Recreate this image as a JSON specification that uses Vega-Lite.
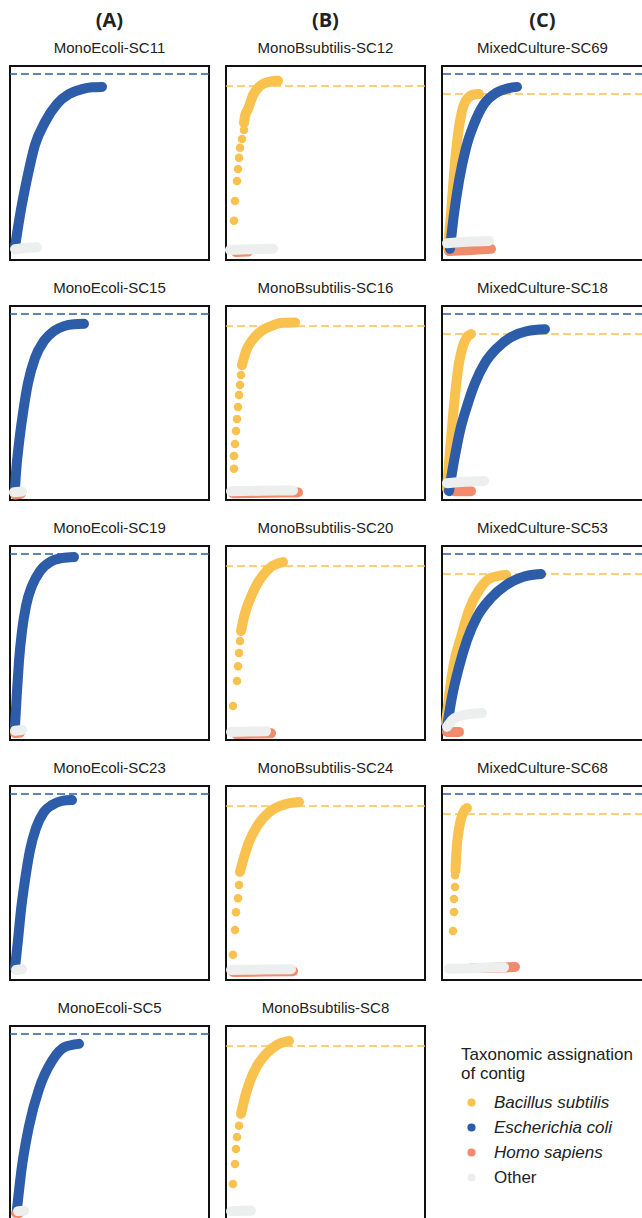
{
"$schema":"https://vega.github.io/schema/vega-lite/v6.json",
"padding":{"left":8,"top":11,"right":0,"bottom":0},
"background":"white",
"datasets":{"d":[
{"c":"A","p":"MonoEcoli-SC11","t":"Escherichia coli","k":"r","x":0,"y":4.64},
{"c":"A","p":"MonoEcoli-SC11","t":"Escherichia coli","k":"l","x":5,"y":0.08},
{"c":"A","p":"MonoEcoli-SC11","t":"Escherichia coli","k":"l","x":10,"y":0.92},
{"c":"A","p":"MonoEcoli-SC11","t":"Escherichia coli","k":"l","x":17,"y":1.87},
{"c":"A","p":"MonoEcoli-SC11","t":"Escherichia coli","k":"l","x":25,"y":2.77},
{"c":"A","p":"MonoEcoli-SC11","t":"Escherichia coli","k":"l","x":35,"y":3.37},
{"c":"A","p":"MonoEcoli-SC11","t":"Escherichia coli","k":"l","x":47,"y":3.85},
{"c":"A","p":"MonoEcoli-SC11","t":"Escherichia coli","k":"l","x":59,"y":4.11},
{"c":"A","p":"MonoEcoli-SC11","t":"Escherichia coli","k":"l","x":72,"y":4.24},
{"c":"A","p":"MonoEcoli-SC11","t":"Escherichia coli","k":"l","x":82,"y":4.29},
{"c":"A","p":"MonoEcoli-SC11","t":"Escherichia coli","k":"l","x":92,"y":4.30},
{"c":"A","p":"MonoEcoli-SC11","t":"Other","k":"l","x":5,"y":0.02},
{"c":"A","p":"MonoEcoli-SC11","t":"Other","k":"l","x":15,"y":0.05},
{"c":"A","p":"MonoEcoli-SC11","t":"Other","k":"l","x":27,"y":0.07},

{"c":"A","p":"MonoEcoli-SC15","t":"Escherichia coli","k":"r","x":0,"y":4.64},
{"c":"A","p":"MonoEcoli-SC15","t":"Homo sapiens","k":"l","x":5,"y":-0.12},
{"c":"A","p":"MonoEcoli-SC15","t":"Homo sapiens","k":"l","x":11,"y":-0.1},
{"c":"A","p":"MonoEcoli-SC15","t":"Escherichia coli","k":"l","x":5,"y":0.05},
{"c":"A","p":"MonoEcoli-SC15","t":"Escherichia coli","k":"l","x":6,"y":0.45},
{"c":"A","p":"MonoEcoli-SC15","t":"Escherichia coli","k":"l","x":9,"y":1.24},
{"c":"A","p":"MonoEcoli-SC15","t":"Escherichia coli","k":"l","x":13,"y":2.03},
{"c":"A","p":"MonoEcoli-SC15","t":"Escherichia coli","k":"l","x":18,"y":2.82},
{"c":"A","p":"MonoEcoli-SC15","t":"Escherichia coli","k":"l","x":25,"y":3.48},
{"c":"A","p":"MonoEcoli-SC15","t":"Escherichia coli","k":"l","x":34,"y":3.93},
{"c":"A","p":"MonoEcoli-SC15","t":"Escherichia coli","k":"l","x":44,"y":4.19},
{"c":"A","p":"MonoEcoli-SC15","t":"Escherichia coli","k":"l","x":54,"y":4.32},
{"c":"A","p":"MonoEcoli-SC15","t":"Escherichia coli","k":"l","x":64,"y":4.37},
{"c":"A","p":"MonoEcoli-SC15","t":"Escherichia coli","k":"l","x":74,"y":4.38},
{"c":"A","p":"MonoEcoli-SC15","t":"Other","k":"l","x":4,"y":-0.06},
{"c":"A","p":"MonoEcoli-SC15","t":"Other","k":"l","x":12,"y":-0.04},

{"c":"A","p":"MonoEcoli-SC19","t":"Escherichia coli","k":"r","x":0,"y":4.64},
{"c":"A","p":"MonoEcoli-SC19","t":"Homo sapiens","k":"l","x":5,"y":-0.08},
{"c":"A","p":"MonoEcoli-SC19","t":"Homo sapiens","k":"l","x":10,"y":-0.07},
{"c":"A","p":"MonoEcoli-SC19","t":"Escherichia coli","k":"l","x":5,"y":0.11},
{"c":"A","p":"MonoEcoli-SC19","t":"Escherichia coli","k":"l","x":7,"y":1.03},
{"c":"A","p":"MonoEcoli-SC19","t":"Escherichia coli","k":"l","x":9,"y":1.82},
{"c":"A","p":"MonoEcoli-SC19","t":"Escherichia coli","k":"l","x":12,"y":2.61},
{"c":"A","p":"MonoEcoli-SC19","t":"Escherichia coli","k":"l","x":16,"y":3.27},
{"c":"A","p":"MonoEcoli-SC19","t":"Escherichia coli","k":"l","x":22,"y":3.80},
{"c":"A","p":"MonoEcoli-SC19","t":"Escherichia coli","k":"l","x":30,"y":4.19},
{"c":"A","p":"MonoEcoli-SC19","t":"Escherichia coli","k":"l","x":40,"y":4.43},
{"c":"A","p":"MonoEcoli-SC19","t":"Escherichia coli","k":"l","x":52,"y":4.53},
{"c":"A","p":"MonoEcoli-SC19","t":"Escherichia coli","k":"l","x":64,"y":4.56},
{"c":"A","p":"MonoEcoli-SC19","t":"Other","k":"l","x":5,"y":-0.02},
{"c":"A","p":"MonoEcoli-SC19","t":"Other","k":"l","x":12,"y":0.0},

{"c":"A","p":"MonoEcoli-SC23","t":"Escherichia coli","k":"r","x":0,"y":4.64},
{"c":"A","p":"MonoEcoli-SC23","t":"Escherichia coli","k":"l","x":5,"y":0.05},
{"c":"A","p":"MonoEcoli-SC23","t":"Escherichia coli","k":"l","x":8,"y":0.79},
{"c":"A","p":"MonoEcoli-SC23","t":"Escherichia coli","k":"l","x":11,"y":1.58},
{"c":"A","p":"MonoEcoli-SC23","t":"Escherichia coli","k":"l","x":15,"y":2.37},
{"c":"A","p":"MonoEcoli-SC23","t":"Escherichia coli","k":"l","x":20,"y":3.16},
{"c":"A","p":"MonoEcoli-SC23","t":"Escherichia coli","k":"l","x":26,"y":3.74},
{"c":"A","p":"MonoEcoli-SC23","t":"Escherichia coli","k":"l","x":34,"y":4.17},
{"c":"A","p":"MonoEcoli-SC23","t":"Escherichia coli","k":"l","x":42,"y":4.35},
{"c":"A","p":"MonoEcoli-SC23","t":"Escherichia coli","k":"l","x":52,"y":4.46},
{"c":"A","p":"MonoEcoli-SC23","t":"Escherichia coli","k":"l","x":62,"y":4.48},
{"c":"A","p":"MonoEcoli-SC23","t":"Other","k":"l","x":6,"y":0.0},
{"c":"A","p":"MonoEcoli-SC23","t":"Other","k":"l","x":12,"y":0.02},

{"c":"A","p":"MonoEcoli-SC5","t":"Escherichia coli","k":"r","x":0,"y":4.64},
{"c":"A","p":"MonoEcoli-SC5","t":"Homo sapiens","k":"l","x":6,"y":-0.08},
{"c":"A","p":"MonoEcoli-SC5","t":"Homo sapiens","k":"l","x":9,"y":-0.08},
{"c":"A","p":"MonoEcoli-SC5","t":"Escherichia coli","k":"l","x":7,"y":0.03},
{"c":"A","p":"MonoEcoli-SC5","t":"Escherichia coli","k":"l","x":12,"y":1.16},
{"c":"A","p":"MonoEcoli-SC5","t":"Escherichia coli","k":"l","x":19,"y":2.21},
{"c":"A","p":"MonoEcoli-SC5","t":"Escherichia coli","k":"l","x":29,"y":3.19},
{"c":"A","p":"MonoEcoli-SC5","t":"Escherichia coli","k":"l","x":42,"y":3.93},
{"c":"A","p":"MonoEcoli-SC5","t":"Escherichia coli","k":"l","x":55,"y":4.30},
{"c":"A","p":"MonoEcoli-SC5","t":"Escherichia coli","k":"l","x":69,"y":4.38},
{"c":"A","p":"MonoEcoli-SC5","t":"Other","k":"l","x":8,"y":-0.03},
{"c":"A","p":"MonoEcoli-SC5","t":"Other","k":"l","x":14,"y":-0.02},

{"c":"B","p":"MonoBsubtilis-SC12","t":"Bacillus subtilis","k":"r","x":0,"y":4.11},
{"c":"B","p":"MonoBsubtilis-SC12","t":"Homo sapiens","k":"l","x":10,"y":-0.05},
{"c":"B","p":"MonoBsubtilis-SC12","t":"Homo sapiens","k":"l","x":22,"y":-0.04},
{"c":"B","p":"MonoBsubtilis-SC12","t":"Bacillus subtilis","k":"d","x":8,"y":0.73},
{"c":"B","p":"MonoBsubtilis-SC12","t":"Bacillus subtilis","k":"d","x":9,"y":1.23},
{"c":"B","p":"MonoBsubtilis-SC12","t":"Bacillus subtilis","k":"d","x":11,"y":1.73},
{"c":"B","p":"MonoBsubtilis-SC12","t":"Bacillus subtilis","k":"d","x":12,"y":2.03},
{"c":"B","p":"MonoBsubtilis-SC12","t":"Bacillus subtilis","k":"d","x":13,"y":2.31},
{"c":"B","p":"MonoBsubtilis-SC12","t":"Bacillus subtilis","k":"d","x":14,"y":2.56},
{"c":"B","p":"MonoBsubtilis-SC12","t":"Bacillus subtilis","k":"d","x":16,"y":2.78},
{"c":"B","p":"MonoBsubtilis-SC12","t":"Bacillus subtilis","k":"d","x":18,"y":3.01},
{"c":"B","p":"MonoBsubtilis-SC12","t":"Bacillus subtilis","k":"l","x":18,"y":3.18},
{"c":"B","p":"MonoBsubtilis-SC12","t":"Bacillus subtilis","k":"l","x":19,"y":3.36},
{"c":"B","p":"MonoBsubtilis-SC12","t":"Bacillus subtilis","k":"l","x":22,"y":3.53},
{"c":"B","p":"MonoBsubtilis-SC12","t":"Bacillus subtilis","k":"l","x":27,"y":3.88},
{"c":"B","p":"MonoBsubtilis-SC12","t":"Bacillus subtilis","k":"l","x":33,"y":4.09},
{"c":"B","p":"MonoBsubtilis-SC12","t":"Bacillus subtilis","k":"l","x":42,"y":4.21},
{"c":"B","p":"MonoBsubtilis-SC12","t":"Bacillus subtilis","k":"l","x":52,"y":4.24},
{"c":"B","p":"MonoBsubtilis-SC12","t":"Other","k":"l","x":4,"y":0.0},
{"c":"B","p":"MonoBsubtilis-SC12","t":"Other","k":"l","x":25,"y":0.02},
{"c":"B","p":"MonoBsubtilis-SC12","t":"Other","k":"l","x":47,"y":0.03},

{"c":"B","p":"MonoBsubtilis-SC16","t":"Bacillus subtilis","k":"r","x":0,"y":4.11},
{"c":"B","p":"MonoBsubtilis-SC16","t":"Homo sapiens","k":"l","x":7,"y":-0.08},
{"c":"B","p":"MonoBsubtilis-SC16","t":"Homo sapiens","k":"l","x":40,"y":-0.07},
{"c":"B","p":"MonoBsubtilis-SC16","t":"Homo sapiens","k":"l","x":72,"y":-0.06},
{"c":"B","p":"MonoBsubtilis-SC16","t":"Bacillus subtilis","k":"d","x":8,"y":0.53},
{"c":"B","p":"MonoBsubtilis-SC16","t":"Bacillus subtilis","k":"d","x":8,"y":0.85},
{"c":"B","p":"MonoBsubtilis-SC16","t":"Bacillus subtilis","k":"d","x":9,"y":1.15},
{"c":"B","p":"MonoBsubtilis-SC16","t":"Bacillus subtilis","k":"d","x":10,"y":1.48},
{"c":"B","p":"MonoBsubtilis-SC16","t":"Bacillus subtilis","k":"d","x":11,"y":1.78},
{"c":"B","p":"MonoBsubtilis-SC16","t":"Bacillus subtilis","k":"d","x":12,"y":2.08},
{"c":"B","p":"MonoBsubtilis-SC16","t":"Bacillus subtilis","k":"d","x":13,"y":2.38},
{"c":"B","p":"MonoBsubtilis-SC16","t":"Bacillus subtilis","k":"d","x":14,"y":2.63},
{"c":"B","p":"MonoBsubtilis-SC16","t":"Bacillus subtilis","k":"d","x":15,"y":2.88},
{"c":"B","p":"MonoBsubtilis-SC16","t":"Bacillus subtilis","k":"l","x":16,"y":3.13},
{"c":"B","p":"MonoBsubtilis-SC16","t":"Bacillus subtilis","k":"l","x":20,"y":3.48},
{"c":"B","p":"MonoBsubtilis-SC16","t":"Bacillus subtilis","k":"l","x":27,"y":3.78},
{"c":"B","p":"MonoBsubtilis-SC16","t":"Bacillus subtilis","k":"l","x":35,"y":3.98},
{"c":"B","p":"MonoBsubtilis-SC16","t":"Bacillus subtilis","k":"l","x":45,"y":4.11},
{"c":"B","p":"MonoBsubtilis-SC16","t":"Bacillus subtilis","k":"l","x":57,"y":4.19},
{"c":"B","p":"MonoBsubtilis-SC16","t":"Bacillus subtilis","k":"l","x":69,"y":4.20},
{"c":"B","p":"MonoBsubtilis-SC16","t":"Other","k":"l","x":5,"y":-0.03},
{"c":"B","p":"MonoBsubtilis-SC16","t":"Other","k":"l","x":35,"y":-0.02},
{"c":"B","p":"MonoBsubtilis-SC16","t":"Other","k":"l","x":67,"y":-0.01},

{"c":"B","p":"MonoBsubtilis-SC20","t":"Bacillus subtilis","k":"r","x":0,"y":4.11},
{"c":"B","p":"MonoBsubtilis-SC20","t":"Homo sapiens","k":"l","x":10,"y":-0.1},
{"c":"B","p":"MonoBsubtilis-SC20","t":"Homo sapiens","k":"l","x":28,"y":-0.09},
{"c":"B","p":"MonoBsubtilis-SC20","t":"Homo sapiens","k":"l","x":45,"y":-0.08},
{"c":"B","p":"MonoBsubtilis-SC20","t":"Bacillus subtilis","k":"d","x":7,"y":0.60},
{"c":"B","p":"MonoBsubtilis-SC20","t":"Bacillus subtilis","k":"d","x":11,"y":1.23},
{"c":"B","p":"MonoBsubtilis-SC20","t":"Bacillus subtilis","k":"d","x":12,"y":1.60},
{"c":"B","p":"MonoBsubtilis-SC20","t":"Bacillus subtilis","k":"d","x":13,"y":1.93},
{"c":"B","p":"MonoBsubtilis-SC20","t":"Bacillus subtilis","k":"d","x":14,"y":2.23},
{"c":"B","p":"MonoBsubtilis-SC20","t":"Bacillus subtilis","k":"l","x":15,"y":2.48},
{"c":"B","p":"MonoBsubtilis-SC20","t":"Bacillus subtilis","k":"l","x":19,"y":2.93},
{"c":"B","p":"MonoBsubtilis-SC20","t":"Bacillus subtilis","k":"l","x":24,"y":3.28},
{"c":"B","p":"MonoBsubtilis-SC20","t":"Bacillus subtilis","k":"l","x":30,"y":3.61},
{"c":"B","p":"MonoBsubtilis-SC20","t":"Bacillus subtilis","k":"l","x":37,"y":3.88},
{"c":"B","p":"MonoBsubtilis-SC20","t":"Bacillus subtilis","k":"l","x":45,"y":4.09},
{"c":"B","p":"MonoBsubtilis-SC20","t":"Bacillus subtilis","k":"l","x":57,"y":4.21},
{"c":"B","p":"MonoBsubtilis-SC20","t":"Other","k":"l","x":5,"y":-0.05},
{"c":"B","p":"MonoBsubtilis-SC20","t":"Other","k":"l","x":22,"y":-0.04},
{"c":"B","p":"MonoBsubtilis-SC20","t":"Other","k":"l","x":40,"y":-0.03},

{"c":"B","p":"MonoBsubtilis-SC24","t":"Bacillus subtilis","k":"r","x":0,"y":4.11},
{"c":"B","p":"MonoBsubtilis-SC24","t":"Homo sapiens","k":"l","x":7,"y":-0.05},
{"c":"B","p":"MonoBsubtilis-SC24","t":"Homo sapiens","k":"l","x":37,"y":-0.04},
{"c":"B","p":"MonoBsubtilis-SC24","t":"Homo sapiens","k":"l","x":67,"y":-0.03},
{"c":"B","p":"MonoBsubtilis-SC24","t":"Bacillus subtilis","k":"d","x":7,"y":0.38},
{"c":"B","p":"MonoBsubtilis-SC24","t":"Bacillus subtilis","k":"d","x":9,"y":1.00},
{"c":"B","p":"MonoBsubtilis-SC24","t":"Bacillus subtilis","k":"d","x":10,"y":1.45},
{"c":"B","p":"MonoBsubtilis-SC24","t":"Bacillus subtilis","k":"d","x":12,"y":1.80},
{"c":"B","p":"MonoBsubtilis-SC24","t":"Bacillus subtilis","k":"d","x":13,"y":2.13},
{"c":"B","p":"MonoBsubtilis-SC24","t":"Bacillus subtilis","k":"l","x":14,"y":2.46},
{"c":"B","p":"MonoBsubtilis-SC24","t":"Bacillus subtilis","k":"l","x":18,"y":2.83},
{"c":"B","p":"MonoBsubtilis-SC24","t":"Bacillus subtilis","k":"l","x":23,"y":3.21},
{"c":"B","p":"MonoBsubtilis-SC24","t":"Bacillus subtilis","k":"l","x":30,"y":3.56},
{"c":"B","p":"MonoBsubtilis-SC24","t":"Bacillus subtilis","k":"l","x":38,"y":3.83},
{"c":"B","p":"MonoBsubtilis-SC24","t":"Bacillus subtilis","k":"l","x":48,"y":4.04},
{"c":"B","p":"MonoBsubtilis-SC24","t":"Bacillus subtilis","k":"l","x":60,"y":4.16},
{"c":"B","p":"MonoBsubtilis-SC24","t":"Bacillus subtilis","k":"l","x":73,"y":4.21},
{"c":"B","p":"MonoBsubtilis-SC24","t":"Other","k":"l","x":5,"y":0.0},
{"c":"B","p":"MonoBsubtilis-SC24","t":"Other","k":"l","x":35,"y":0.01},
{"c":"B","p":"MonoBsubtilis-SC24","t":"Other","k":"l","x":65,"y":0.02},

{"c":"B","p":"MonoBsubtilis-SC8","t":"Bacillus subtilis","k":"r","x":0,"y":4.11},
{"c":"B","p":"MonoBsubtilis-SC8","t":"Bacillus subtilis","k":"d","x":7,"y":0.65},
{"c":"B","p":"MonoBsubtilis-SC8","t":"Bacillus subtilis","k":"d","x":9,"y":1.15},
{"c":"B","p":"MonoBsubtilis-SC8","t":"Bacillus subtilis","k":"d","x":10,"y":1.53},
{"c":"B","p":"MonoBsubtilis-SC8","t":"Bacillus subtilis","k":"d","x":11,"y":1.83},
{"c":"B","p":"MonoBsubtilis-SC8","t":"Bacillus subtilis","k":"d","x":13,"y":2.11},
{"c":"B","p":"MonoBsubtilis-SC8","t":"Bacillus subtilis","k":"l","x":15,"y":2.41},
{"c":"B","p":"MonoBsubtilis-SC8","t":"Bacillus subtilis","k":"l","x":19,"y":2.83},
{"c":"B","p":"MonoBsubtilis-SC8","t":"Bacillus subtilis","k":"l","x":24,"y":3.23},
{"c":"B","p":"MonoBsubtilis-SC8","t":"Bacillus subtilis","k":"l","x":31,"y":3.61},
{"c":"B","p":"MonoBsubtilis-SC8","t":"Bacillus subtilis","k":"l","x":40,"y":3.91},
{"c":"B","p":"MonoBsubtilis-SC8","t":"Bacillus subtilis","k":"l","x":51,"y":4.14},
{"c":"B","p":"MonoBsubtilis-SC8","t":"Bacillus subtilis","k":"l","x":63,"y":4.24},
{"c":"B","p":"MonoBsubtilis-SC8","t":"Other","k":"l","x":5,"y":-0.03},
{"c":"B","p":"MonoBsubtilis-SC8","t":"Other","k":"l","x":15,"y":-0.02},
{"c":"B","p":"MonoBsubtilis-SC8","t":"Other","k":"l","x":25,"y":-0.02},

{"c":"C","p":"MixedCulture-SC69","t":"Escherichia coli","k":"r","x":0,"y":4.64},
{"c":"C","p":"MixedCulture-SC69","t":"Bacillus subtilis","k":"r","x":0,"y":4.11},
{"c":"C","p":"MixedCulture-SC69","t":"Homo sapiens","k":"l","x":7,"y":-0.03},
{"c":"C","p":"MixedCulture-SC69","t":"Homo sapiens","k":"l","x":28,"y":0.0},
{"c":"C","p":"MixedCulture-SC69","t":"Homo sapiens","k":"l","x":49,"y":0.03},
{"c":"C","p":"MixedCulture-SC69","t":"Bacillus subtilis","k":"l","x":6,"y":0.05},
{"c":"C","p":"MixedCulture-SC69","t":"Bacillus subtilis","k":"l","x":9,"y":0.95},
{"c":"C","p":"MixedCulture-SC69","t":"Bacillus subtilis","k":"l","x":12,"y":2.00},
{"c":"C","p":"MixedCulture-SC69","t":"Bacillus subtilis","k":"l","x":16,"y":3.06},
{"c":"C","p":"MixedCulture-SC69","t":"Bacillus subtilis","k":"l","x":20,"y":3.66},
{"c":"C","p":"MixedCulture-SC69","t":"Bacillus subtilis","k":"l","x":25,"y":3.98},
{"c":"C","p":"MixedCulture-SC69","t":"Bacillus subtilis","k":"l","x":32,"y":4.10},
{"c":"C","p":"MixedCulture-SC69","t":"Bacillus subtilis","k":"l","x":37,"y":4.11},
{"c":"C","p":"MixedCulture-SC69","t":"Escherichia coli","k":"l","x":8,"y":0.03},
{"c":"C","p":"MixedCulture-SC69","t":"Escherichia coli","k":"l","x":12,"y":0.95},
{"c":"C","p":"MixedCulture-SC69","t":"Escherichia coli","k":"l","x":17,"y":1.82},
{"c":"C","p":"MixedCulture-SC69","t":"Escherichia coli","k":"l","x":24,"y":2.69},
{"c":"C","p":"MixedCulture-SC69","t":"Escherichia coli","k":"l","x":32,"y":3.32},
{"c":"C","p":"MixedCulture-SC69","t":"Escherichia coli","k":"l","x":42,"y":3.85},
{"c":"C","p":"MixedCulture-SC69","t":"Escherichia coli","k":"l","x":54,"y":4.14},
{"c":"C","p":"MixedCulture-SC69","t":"Escherichia coli","k":"l","x":67,"y":4.27},
{"c":"C","p":"MixedCulture-SC69","t":"Escherichia coli","k":"l","x":75,"y":4.30},
{"c":"C","p":"MixedCulture-SC69","t":"Other","k":"l","x":5,"y":0.18},
{"c":"C","p":"MixedCulture-SC69","t":"Other","k":"l","x":25,"y":0.22},
{"c":"C","p":"MixedCulture-SC69","t":"Other","k":"l","x":47,"y":0.24},

{"c":"C","p":"MixedCulture-SC18","t":"Escherichia coli","k":"r","x":0,"y":4.64},
{"c":"C","p":"MixedCulture-SC18","t":"Bacillus subtilis","k":"r","x":0,"y":4.11},
{"c":"C","p":"MixedCulture-SC18","t":"Homo sapiens","k":"l","x":12,"y":-0.03},
{"c":"C","p":"MixedCulture-SC18","t":"Homo sapiens","k":"l","x":29,"y":-0.03},
{"c":"C","p":"MixedCulture-SC18","t":"Bacillus subtilis","k":"l","x":5,"y":0.03},
{"c":"C","p":"MixedCulture-SC18","t":"Bacillus subtilis","k":"l","x":8,"y":1.03},
{"c":"C","p":"MixedCulture-SC18","t":"Bacillus subtilis","k":"l","x":11,"y":1.95},
{"c":"C","p":"MixedCulture-SC18","t":"Bacillus subtilis","k":"l","x":14,"y":2.74},
{"c":"C","p":"MixedCulture-SC18","t":"Bacillus subtilis","k":"l","x":17,"y":3.35},
{"c":"C","p":"MixedCulture-SC18","t":"Bacillus subtilis","k":"l","x":21,"y":3.80},
{"c":"C","p":"MixedCulture-SC18","t":"Bacillus subtilis","k":"l","x":25,"y":4.03},
{"c":"C","p":"MixedCulture-SC18","t":"Bacillus subtilis","k":"l","x":29,"y":4.11},
{"c":"C","p":"MixedCulture-SC18","t":"Escherichia coli","k":"l","x":7,"y":-0.03},
{"c":"C","p":"MixedCulture-SC18","t":"Escherichia coli","k":"l","x":12,"y":0.76},
{"c":"C","p":"MixedCulture-SC18","t":"Escherichia coli","k":"l","x":18,"y":1.56},
{"c":"C","p":"MixedCulture-SC18","t":"Escherichia coli","k":"l","x":25,"y":2.21},
{"c":"C","p":"MixedCulture-SC18","t":"Escherichia coli","k":"l","x":33,"y":2.82},
{"c":"C","p":"MixedCulture-SC18","t":"Escherichia coli","k":"l","x":43,"y":3.35},
{"c":"C","p":"MixedCulture-SC18","t":"Escherichia coli","k":"l","x":55,"y":3.74},
{"c":"C","p":"MixedCulture-SC18","t":"Escherichia coli","k":"l","x":69,"y":4.03},
{"c":"C","p":"MixedCulture-SC18","t":"Escherichia coli","k":"l","x":85,"y":4.19},
{"c":"C","p":"MixedCulture-SC18","t":"Escherichia coli","k":"l","x":103,"y":4.24},
{"c":"C","p":"MixedCulture-SC18","t":"Other","k":"l","x":5,"y":0.18},
{"c":"C","p":"MixedCulture-SC18","t":"Other","k":"l","x":22,"y":0.22},
{"c":"C","p":"MixedCulture-SC18","t":"Other","k":"l","x":42,"y":0.24},

{"c":"C","p":"MixedCulture-SC53","t":"Escherichia coli","k":"r","x":0,"y":4.64},
{"c":"C","p":"MixedCulture-SC53","t":"Bacillus subtilis","k":"r","x":0,"y":4.11},
{"c":"C","p":"MixedCulture-SC53","t":"Homo sapiens","k":"l","x":5,"y":-0.05},
{"c":"C","p":"MixedCulture-SC53","t":"Homo sapiens","k":"l","x":17,"y":-0.05},
{"c":"C","p":"MixedCulture-SC53","t":"Bacillus subtilis","k":"l","x":4,"y":0.18},
{"c":"C","p":"MixedCulture-SC53","t":"Bacillus subtilis","k":"l","x":7,"y":0.87},
{"c":"C","p":"MixedCulture-SC53","t":"Bacillus subtilis","k":"l","x":12,"y":1.77},
{"c":"C","p":"MixedCulture-SC53","t":"Bacillus subtilis","k":"l","x":19,"y":2.45},
{"c":"C","p":"MixedCulture-SC53","t":"Bacillus subtilis","k":"l","x":27,"y":3.16},
{"c":"C","p":"MixedCulture-SC53","t":"Bacillus subtilis","k":"l","x":37,"y":3.69},
{"c":"C","p":"MixedCulture-SC53","t":"Bacillus subtilis","k":"l","x":49,"y":4.01},
{"c":"C","p":"MixedCulture-SC53","t":"Bacillus subtilis","k":"l","x":64,"y":4.09},
{"c":"C","p":"MixedCulture-SC53","t":"Escherichia coli","k":"l","x":5,"y":0.08},
{"c":"C","p":"MixedCulture-SC53","t":"Escherichia coli","k":"l","x":10,"y":0.87},
{"c":"C","p":"MixedCulture-SC53","t":"Escherichia coli","k":"l","x":17,"y":1.66},
{"c":"C","p":"MixedCulture-SC53","t":"Escherichia coli","k":"l","x":25,"y":2.37},
{"c":"C","p":"MixedCulture-SC53","t":"Escherichia coli","k":"l","x":35,"y":2.98},
{"c":"C","p":"MixedCulture-SC53","t":"Escherichia coli","k":"l","x":49,"y":3.48},
{"c":"C","p":"MixedCulture-SC53","t":"Escherichia coli","k":"l","x":64,"y":3.82},
{"c":"C","p":"MixedCulture-SC53","t":"Escherichia coli","k":"l","x":80,"y":4.03},
{"c":"C","p":"MixedCulture-SC53","t":"Escherichia coli","k":"l","x":99,"y":4.11},
{"c":"C","p":"MixedCulture-SC53","t":"Other","k":"l","x":5,"y":0.08},
{"c":"C","p":"MixedCulture-SC53","t":"Other","k":"l","x":10,"y":0.26},
{"c":"C","p":"MixedCulture-SC53","t":"Other","k":"l","x":18,"y":0.37},
{"c":"C","p":"MixedCulture-SC53","t":"Other","k":"l","x":28,"y":0.42},
{"c":"C","p":"MixedCulture-SC53","t":"Other","k":"l","x":40,"y":0.45},

{"c":"C","p":"MixedCulture-SC68","t":"Escherichia coli","k":"r","x":0,"y":4.64},
{"c":"C","p":"MixedCulture-SC68","t":"Bacillus subtilis","k":"r","x":0,"y":4.11},
{"c":"C","p":"MixedCulture-SC68","t":"Homo sapiens","k":"l","x":30,"y":0.05},
{"c":"C","p":"MixedCulture-SC68","t":"Homo sapiens","k":"l","x":52,"y":0.06},
{"c":"C","p":"MixedCulture-SC68","t":"Homo sapiens","k":"l","x":73,"y":0.08},
{"c":"C","p":"MixedCulture-SC68","t":"Bacillus subtilis","k":"d","x":11,"y":1.03},
{"c":"C","p":"MixedCulture-SC68","t":"Bacillus subtilis","k":"d","x":12,"y":1.53},
{"c":"C","p":"MixedCulture-SC68","t":"Bacillus subtilis","k":"d","x":12,"y":1.87},
{"c":"C","p":"MixedCulture-SC68","t":"Bacillus subtilis","k":"d","x":13,"y":2.19},
{"c":"C","p":"MixedCulture-SC68","t":"Bacillus subtilis","k":"d","x":13,"y":2.50},
{"c":"C","p":"MixedCulture-SC68","t":"Bacillus subtilis","k":"l","x":13.5,"y":2.62},
{"c":"C","p":"MixedCulture-SC68","t":"Bacillus subtilis","k":"l","x":14,"y":2.93},
{"c":"C","p":"MixedCulture-SC68","t":"Bacillus subtilis","k":"l","x":15,"y":3.32},
{"c":"C","p":"MixedCulture-SC68","t":"Bacillus subtilis","k":"l","x":17,"y":3.72},
{"c":"C","p":"MixedCulture-SC68","t":"Bacillus subtilis","k":"l","x":19,"y":3.98},
{"c":"C","p":"MixedCulture-SC68","t":"Bacillus subtilis","k":"l","x":22,"y":4.19},
{"c":"C","p":"MixedCulture-SC68","t":"Bacillus subtilis","k":"l","x":25,"y":4.27},
{"c":"C","p":"MixedCulture-SC68","t":"Other","k":"l","x":7,"y":0.03},
{"c":"C","p":"MixedCulture-SC68","t":"Other","k":"l","x":35,"y":0.05},
{"c":"C","p":"MixedCulture-SC68","t":"Other","k":"l","x":62,"y":0.07}
]},
"data":{"name":"d"},
"spacing":13,
"hconcat":[
{"title":{"text":"(A)"},
 "transform":[{"filter":"datum.c === 'A'"}],
 "facet":{"field":"p","type":"nominal","sort":["MonoEcoli-SC11","MonoEcoli-SC15","MonoEcoli-SC19","MonoEcoli-SC23","MonoEcoli-SC5"],"header":{"title":null}},
 "columns":1,
 "spacing":{"row":19},
 "spec":{"width":199,"height":194,
  "encoding":{
   "y":{"field":"y","type":"quantitative","scale":{"domain":[-0.264,4.851],"nice":false,"zero":false},"axis":null},
   "color":{"field":"t","type":"nominal","scale":{"domain":["Bacillus subtilis","Escherichia coli","Homo sapiens","Other"],"range":["#F9C24F","#2D5CA8","#F28B6C","#EDEEEE"]},
     "legend":{"orient":"none","legendX":451,"legendY":981,"title":["Taxonomic assignation","of contig"],"symbolType":"circle","symbolSize":45,"symbolOffset":2,"labelOffset":14,"rowPadding":7,"titlePadding":11,
       "encode":{"symbols":{"update":{"fill":{"scale":"color","field":"value"},"stroke":{"value":"transparent"},"opacity":{"value":1}}},"labels":{"update":{"fontStyle":{"signal":"datum.value === 'Other' ? 'normal' : 'italic'"}}}}}}
  },
  "layer":[
   {"transform":[{"filter":"datum.k === 'r'"}],"mark":{"type":"rule","strokeDash":[8,4],"strokeWidth":1.5}},
   {"transform":[{"filter":"datum.k === 'l'"}],"mark":{"type":"line","strokeWidth":10,"strokeCap":"round","strokeJoin":"round","interpolate":"monotone"},
    "encoding":{"x":{"field":"x","type":"quantitative","scale":{"domain":[0,199],"nice":false},"axis":null}}},
   {"transform":[{"filter":"datum.k === 'd'"}],"mark":{"type":"circle","size":72,"opacity":1},
    "encoding":{"x":{"field":"x","type":"quantitative","scale":{"domain":[0,199],"nice":false},"axis":null}}}
  ]}
},
{"title":{"text":"(B)"},
 "transform":[{"filter":"datum.c === 'B'"}],
 "facet":{"field":"p","type":"nominal","sort":["MonoBsubtilis-SC12","MonoBsubtilis-SC16","MonoBsubtilis-SC20","MonoBsubtilis-SC24","MonoBsubtilis-SC8"],"header":{"title":null}},
 "columns":1,
 "spacing":{"row":19},
 "spec":{"width":199,"height":194,
  "encoding":{
   "y":{"field":"y","type":"quantitative","scale":{"domain":[-0.251,4.612],"nice":false,"zero":false},"axis":null},
   "color":{"field":"t","type":"nominal","scale":{"domain":["Bacillus subtilis","Escherichia coli","Homo sapiens","Other"],"range":["#F9C24F","#2D5CA8","#F28B6C","#EDEEEE"]}}
  },
  "layer":[
   {"transform":[{"filter":"datum.k === 'r'"}],"mark":{"type":"rule","strokeDash":[8,4],"strokeWidth":1.5}},
   {"transform":[{"filter":"datum.k === 'l'"}],"mark":{"type":"line","strokeWidth":10,"strokeCap":"round","strokeJoin":"round","interpolate":"monotone"},
    "encoding":{"x":{"field":"x","type":"quantitative","scale":{"domain":[0,199],"nice":false},"axis":null}}},
   {"transform":[{"filter":"datum.k === 'd'"}],"mark":{"type":"circle","size":72,"opacity":1},
    "encoding":{"x":{"field":"x","type":"quantitative","scale":{"domain":[0,199],"nice":false},"axis":null}}}
  ]}
},
{"title":{"text":"(C)"},
 "transform":[{"filter":"datum.c === 'C'"}],
 "facet":{"field":"p","type":"nominal","sort":["MixedCulture-SC69","MixedCulture-SC18","MixedCulture-SC53","MixedCulture-SC68"],"header":{"title":null}},
 "columns":1,
 "spacing":{"row":19},
 "spec":{"width":201,"height":194,
  "encoding":{
   "y":{"field":"y","type":"quantitative","scale":{"domain":[-0.264,4.851],"nice":false,"zero":false},"axis":null},
   "color":{"field":"t","type":"nominal","scale":{"domain":["Bacillus subtilis","Escherichia coli","Homo sapiens","Other"],"range":["#F9C24F","#2D5CA8","#F28B6C","#EDEEEE"]}}
  },
  "layer":[
   {"transform":[{"filter":"datum.k === 'r'"}],"mark":{"type":"rule","strokeDash":[8,4],"strokeWidth":1.5}},
   {"transform":[{"filter":"datum.k === 'l'"}],"mark":{"type":"line","strokeWidth":10,"strokeCap":"round","strokeJoin":"round","interpolate":"monotone"},
    "encoding":{"x":{"field":"x","type":"quantitative","scale":{"domain":[0,201],"nice":false},"axis":null}}},
   {"transform":[{"filter":"datum.k === 'd'"}],"mark":{"type":"circle","size":72,"opacity":1},
    "encoding":{"x":{"field":"x","type":"quantitative","scale":{"domain":[0,201],"nice":false},"axis":null}}}
  ]}
}
],
"config":{
 "view":{"stroke":"#111111","strokeWidth":2},
 "title":{"font":"Open Sans","fontSize":20,"fontWeight":"bold","color":"#222222","offset":9,"anchor":"middle"},
 "header":{"labelFont":"Liberation Sans","labelFontSize":15,"labelColor":"#222222","labelPadding":10},
 "legend":{"titleFont":"Liberation Sans","titleFontSize":17,"titleFontWeight":"normal","titleColor":"#222222","titleLineHeight":19,"labelFont":"Liberation Sans","labelFontSize":17,"labelColor":"#222222"}
}
}
